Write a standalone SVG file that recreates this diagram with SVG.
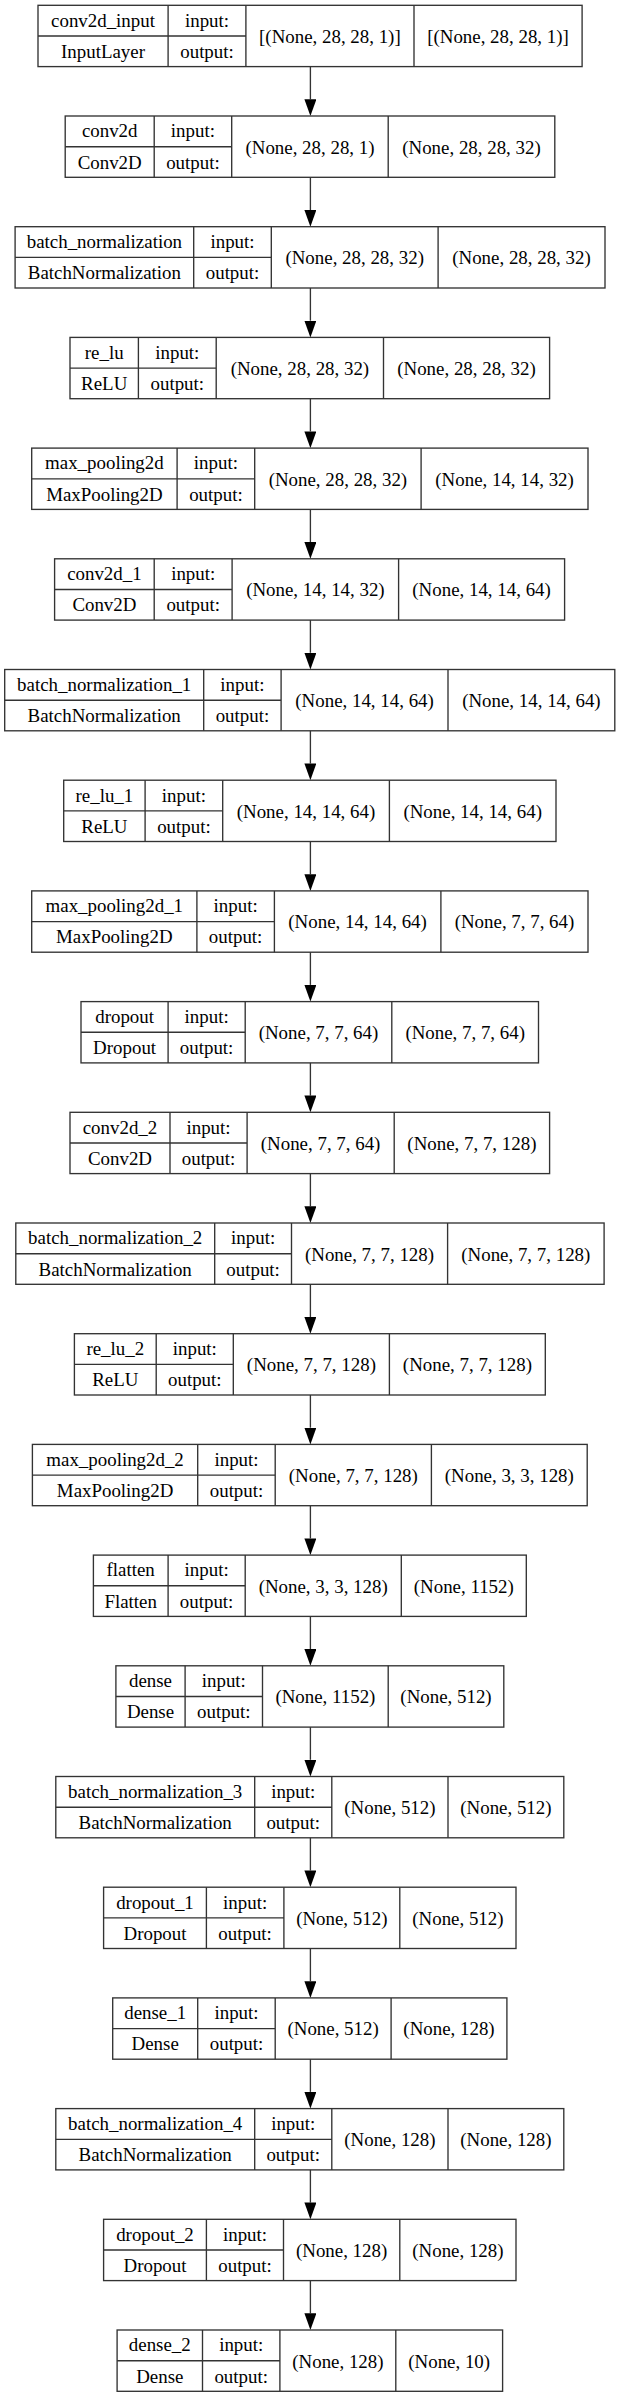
<svg xmlns="http://www.w3.org/2000/svg" width="620" height="2397" viewBox="0 0 620 2397">
<style>
.bg{fill:#fff}
.b{fill:none;stroke:#333;stroke-width:1.35}
.t{font-family:"Liberation Serif","Times New Roman",serif;font-size:18.9px;text-anchor:middle;fill:#000}
.e{stroke:#333;stroke-width:1.35;fill:none}
</style>
<defs>
<marker id="ah" markerUnits="userSpaceOnUse" markerWidth="17" markerHeight="12" refX="0" refY="6" orient="auto" viewBox="0 0 16.7 12">
<path d="M0,0 L16.7,6 L0,12 z" fill="#000"/>
</marker>
</defs>
<rect class="bg" x="0" y="0" width="620" height="2397"/>
<g id="connectors">
<line class="e" x1="310.4" y1="66.6" x2="310.4" y2="99.3" marker-end="url(#ah)"/>
<line class="e" x1="310.4" y1="177.3" x2="310.4" y2="210" marker-end="url(#ah)"/>
<line class="e" x1="310.4" y1="288" x2="310.4" y2="320.7" marker-end="url(#ah)"/>
<line class="e" x1="310.4" y1="398.7" x2="310.4" y2="431.4" marker-end="url(#ah)"/>
<line class="e" x1="310.4" y1="509.4" x2="310.4" y2="542.1" marker-end="url(#ah)"/>
<line class="e" x1="310.4" y1="620.1" x2="310.4" y2="652.8" marker-end="url(#ah)"/>
<line class="e" x1="310.4" y1="730.8" x2="310.4" y2="763.5" marker-end="url(#ah)"/>
<line class="e" x1="310.4" y1="841.5" x2="310.4" y2="874.2" marker-end="url(#ah)"/>
<line class="e" x1="310.4" y1="952.2" x2="310.4" y2="984.9" marker-end="url(#ah)"/>
<line class="e" x1="310.4" y1="1062.9" x2="310.4" y2="1095.6" marker-end="url(#ah)"/>
<line class="e" x1="310.4" y1="1173.6" x2="310.4" y2="1206.3" marker-end="url(#ah)"/>
<line class="e" x1="310.4" y1="1284.3" x2="310.4" y2="1317" marker-end="url(#ah)"/>
<line class="e" x1="310.4" y1="1395" x2="310.4" y2="1427.7" marker-end="url(#ah)"/>
<line class="e" x1="310.4" y1="1505.7" x2="310.4" y2="1538.4" marker-end="url(#ah)"/>
<line class="e" x1="310.4" y1="1616.4" x2="310.4" y2="1649.1" marker-end="url(#ah)"/>
<line class="e" x1="310.4" y1="1727.1" x2="310.4" y2="1759.8" marker-end="url(#ah)"/>
<line class="e" x1="310.4" y1="1837.8" x2="310.4" y2="1870.5" marker-end="url(#ah)"/>
<line class="e" x1="310.4" y1="1948.5" x2="310.4" y2="1981.2" marker-end="url(#ah)"/>
<line class="e" x1="310.4" y1="2059.2" x2="310.4" y2="2091.9" marker-end="url(#ah)"/>
<line class="e" x1="310.4" y1="2169.9" x2="310.4" y2="2202.6" marker-end="url(#ah)"/>
<line class="e" x1="310.4" y1="2280.6" x2="310.4" y2="2313.3" marker-end="url(#ah)"/>
</g>
<g id="conv2d_input" transform="translate(0,5.3)">
<rect class="b" x="38" y="0" width="544.1" height="61.3"/>
<path class="b" d="M168.1,0V61.3M245.9,0V61.3M414,0V61.3M38,30.7H245.9"/>
<text class="t" x="103" y="21.4">conv2d_input</text><text class="t" x="207" y="21.4">input:</text>
<text class="t" x="103" y="52.5">InputLayer</text><text class="t" x="207" y="52.5">output:</text>
<text class="t" x="329.9" y="37.5">[(None, 28, 28, 1)]</text><text class="t" x="498" y="37.5">[(None, 28, 28, 1)]</text>
</g>
<g id="conv2d" transform="translate(0,116)">
<rect class="b" x="65.2" y="0" width="489.6" height="61.3"/>
<path class="b" d="M154.2,0V61.3M231.7,0V61.3M388.2,0V61.3M65.2,30.7H231.7"/>
<text class="t" x="109.7" y="21.4">conv2d</text><text class="t" x="192.9" y="21.4">input:</text>
<text class="t" x="109.7" y="52.5">Conv2D</text><text class="t" x="192.9" y="52.5">output:</text>
<text class="t" x="310" y="37.5">(None, 28, 28, 1)</text><text class="t" x="471.5" y="37.5">(None, 28, 28, 32)</text>
</g>
<g id="batch_normalization" transform="translate(0,226.7)">
<rect class="b" x="15.1" y="0" width="589.9" height="61.3"/>
<path class="b" d="M193.7,0V61.3M271.3,0V61.3M438.1,0V61.3M15.1,30.7H271.3"/>
<text class="t" x="104.4" y="21.4">batch_normalization</text><text class="t" x="232.5" y="21.4">input:</text>
<text class="t" x="104.4" y="52.5">BatchNormalization</text><text class="t" x="232.5" y="52.5">output:</text>
<text class="t" x="354.7" y="37.5">(None, 28, 28, 32)</text><text class="t" x="521.5" y="37.5">(None, 28, 28, 32)</text>
</g>
<g id="re_lu" transform="translate(0,337.4)">
<rect class="b" x="70" y="0" width="479.6" height="61.3"/>
<path class="b" d="M138.4,0V61.3M216.2,0V61.3M383.5,0V61.3M70,30.7H216.2"/>
<text class="t" x="104.2" y="21.4">re_lu</text><text class="t" x="177.3" y="21.4">input:</text>
<text class="t" x="104.2" y="52.5">ReLU</text><text class="t" x="177.3" y="52.5">output:</text>
<text class="t" x="299.9" y="37.5">(None, 28, 28, 32)</text><text class="t" x="466.5" y="37.5">(None, 28, 28, 32)</text>
</g>
<g id="max_pooling2d" transform="translate(0,448.1)">
<rect class="b" x="31.7" y="0" width="556.3" height="61.3"/>
<path class="b" d="M177.1,0V61.3M254.7,0V61.3M421.1,0V61.3M31.7,30.7H254.7"/>
<text class="t" x="104.4" y="21.4">max_pooling2d</text><text class="t" x="215.9" y="21.4">input:</text>
<text class="t" x="104.4" y="52.5">MaxPooling2D</text><text class="t" x="215.9" y="52.5">output:</text>
<text class="t" x="337.9" y="37.5">(None, 28, 28, 32)</text><text class="t" x="504.6" y="37.5">(None, 14, 14, 32)</text>
</g>
<g id="conv2d_1" transform="translate(0,558.8)">
<rect class="b" x="54.6" y="0" width="510" height="61.3"/>
<path class="b" d="M154.2,0V61.3M232.1,0V61.3M398.6,0V61.3M54.6,30.7H232.1"/>
<text class="t" x="104.4" y="21.4">conv2d_1</text><text class="t" x="193.2" y="21.4">input:</text>
<text class="t" x="104.4" y="52.5">Conv2D</text><text class="t" x="193.2" y="52.5">output:</text>
<text class="t" x="315.4" y="37.5">(None, 14, 14, 32)</text><text class="t" x="481.6" y="37.5">(None, 14, 14, 64)</text>
</g>
<g id="batch_normalization_1" transform="translate(0,669.5)">
<rect class="b" x="4.7" y="0" width="610.1" height="61.3"/>
<path class="b" d="M203.7,0V61.3M281.1,0V61.3M448,0V61.3M4.7,30.7H281.1"/>
<text class="t" x="104.2" y="21.4">batch_normalization_1</text><text class="t" x="242.4" y="21.4">input:</text>
<text class="t" x="104.2" y="52.5">BatchNormalization</text><text class="t" x="242.4" y="52.5">output:</text>
<text class="t" x="364.6" y="37.5">(None, 14, 14, 64)</text><text class="t" x="531.4" y="37.5">(None, 14, 14, 64)</text>
</g>
<g id="re_lu_1" transform="translate(0,780.2)">
<rect class="b" x="63.7" y="0" width="492.3" height="61.3"/>
<path class="b" d="M145.1,0V61.3M222.7,0V61.3M389.4,0V61.3M63.7,30.7H222.7"/>
<text class="t" x="104.4" y="21.4">re_lu_1</text><text class="t" x="183.9" y="21.4">input:</text>
<text class="t" x="104.4" y="52.5">ReLU</text><text class="t" x="183.9" y="52.5">output:</text>
<text class="t" x="306" y="37.5">(None, 14, 14, 64)</text><text class="t" x="472.7" y="37.5">(None, 14, 14, 64)</text>
</g>
<g id="max_pooling2d_1" transform="translate(0,890.9)">
<rect class="b" x="31.7" y="0" width="556.3" height="61.3"/>
<path class="b" d="M196.9,0V61.3M274.4,0V61.3M440.9,0V61.3M31.7,30.7H274.4"/>
<text class="t" x="114.3" y="21.4">max_pooling2d_1</text><text class="t" x="235.6" y="21.4">input:</text>
<text class="t" x="114.3" y="52.5">MaxPooling2D</text><text class="t" x="235.6" y="52.5">output:</text>
<text class="t" x="357.6" y="37.5">(None, 14, 14, 64)</text><text class="t" x="514.5" y="37.5">(None, 7, 7, 64)</text>
</g>
<g id="dropout" transform="translate(0,1001.6)">
<rect class="b" x="81" y="0" width="457.5" height="61.3"/>
<path class="b" d="M168.1,0V61.3M245.2,0V61.3M391.8,0V61.3M81,30.7H245.2"/>
<text class="t" x="124.6" y="21.4">dropout</text><text class="t" x="206.6" y="21.4">input:</text>
<text class="t" x="124.6" y="52.5">Dropout</text><text class="t" x="206.6" y="52.5">output:</text>
<text class="t" x="318.5" y="37.5">(None, 7, 7, 64)</text><text class="t" x="465.2" y="37.5">(None, 7, 7, 64)</text>
</g>
<g id="conv2d_2" transform="translate(0,1112.3)">
<rect class="b" x="70" y="0" width="479.6" height="61.3"/>
<path class="b" d="M170,0V61.3M247.1,0V61.3M394.2,0V61.3M70,30.7H247.1"/>
<text class="t" x="120" y="21.4">conv2d_2</text><text class="t" x="208.5" y="21.4">input:</text>
<text class="t" x="120" y="52.5">Conv2D</text><text class="t" x="208.5" y="52.5">output:</text>
<text class="t" x="320.6" y="37.5">(None, 7, 7, 64)</text><text class="t" x="471.9" y="37.5">(None, 7, 7, 128)</text>
</g>
<g id="batch_normalization_2" transform="translate(0,1223)">
<rect class="b" x="15.8" y="0" width="588.3" height="61.3"/>
<path class="b" d="M214.7,0V61.3M291.5,0V61.3M447.6,0V61.3M15.8,30.7H291.5"/>
<text class="t" x="115.2" y="21.4">batch_normalization_2</text><text class="t" x="253.1" y="21.4">input:</text>
<text class="t" x="115.2" y="52.5">BatchNormalization</text><text class="t" x="253.1" y="52.5">output:</text>
<text class="t" x="369.5" y="37.5">(None, 7, 7, 128)</text><text class="t" x="525.8" y="37.5">(None, 7, 7, 128)</text>
</g>
<g id="re_lu_2" transform="translate(0,1333.7)">
<rect class="b" x="74.4" y="0" width="470.9" height="61.3"/>
<path class="b" d="M156.2,0V61.3M233.3,0V61.3M389.4,0V61.3M74.4,30.7H233.3"/>
<text class="t" x="115.3" y="21.4">re_lu_2</text><text class="t" x="194.8" y="21.4">input:</text>
<text class="t" x="115.3" y="52.5">ReLU</text><text class="t" x="194.8" y="52.5">output:</text>
<text class="t" x="311.4" y="37.5">(None, 7, 7, 128)</text><text class="t" x="467.4" y="37.5">(None, 7, 7, 128)</text>
</g>
<g id="max_pooling2d_2" transform="translate(0,1444.4)">
<rect class="b" x="32.4" y="0" width="554.8" height="61.3"/>
<path class="b" d="M197.7,0V61.3M275.2,0V61.3M431.4,0V61.3M32.4,30.7H275.2"/>
<text class="t" x="115.1" y="21.4">max_pooling2d_2</text><text class="t" x="236.5" y="21.4">input:</text>
<text class="t" x="115.1" y="52.5">MaxPooling2D</text><text class="t" x="236.5" y="52.5">output:</text>
<text class="t" x="353.3" y="37.5">(None, 7, 7, 128)</text><text class="t" x="509.3" y="37.5">(None, 3, 3, 128)</text>
</g>
<g id="flatten" transform="translate(0,1555.1)">
<rect class="b" x="93.4" y="0" width="432.9" height="61.3"/>
<path class="b" d="M168.1,0V61.3M245.2,0V61.3M401.3,0V61.3M93.4,30.7H245.2"/>
<text class="t" x="130.7" y="21.4">flatten</text><text class="t" x="206.6" y="21.4">input:</text>
<text class="t" x="130.7" y="52.5">Flatten</text><text class="t" x="206.6" y="52.5">output:</text>
<text class="t" x="323.2" y="37.5">(None, 3, 3, 128)</text><text class="t" x="463.8" y="37.5">(None, 1152)</text>
</g>
<g id="dense" transform="translate(0,1665.8)">
<rect class="b" x="115.9" y="0" width="387.9" height="61.3"/>
<path class="b" d="M185.1,0V61.3M262.5,0V61.3M388.2,0V61.3M115.9,30.7H262.5"/>
<text class="t" x="150.5" y="21.4">dense</text><text class="t" x="223.8" y="21.4">input:</text>
<text class="t" x="150.5" y="52.5">Dense</text><text class="t" x="223.8" y="52.5">output:</text>
<text class="t" x="325.4" y="37.5">(None, 1152)</text><text class="t" x="446" y="37.5">(None, 512)</text>
</g>
<g id="batch_normalization_3" transform="translate(0,1776.5)">
<rect class="b" x="55.8" y="0" width="508" height="61.3"/>
<path class="b" d="M254.7,0V61.3M331.8,0V61.3M448,0V61.3M55.8,30.7H331.8"/>
<text class="t" x="155.2" y="21.4">batch_normalization_3</text><text class="t" x="293.2" y="21.4">input:</text>
<text class="t" x="155.2" y="52.5">BatchNormalization</text><text class="t" x="293.2" y="52.5">output:</text>
<text class="t" x="389.9" y="37.5">(None, 512)</text><text class="t" x="505.9" y="37.5">(None, 512)</text>
</g>
<g id="dropout_1" transform="translate(0,1887.2)">
<rect class="b" x="103.6" y="0" width="412.4" height="61.3"/>
<path class="b" d="M206.4,0V61.3M283.9,0V61.3M399.8,0V61.3M103.6,30.7H283.9"/>
<text class="t" x="155" y="21.4">dropout_1</text><text class="t" x="245.1" y="21.4">input:</text>
<text class="t" x="155" y="52.5">Dropout</text><text class="t" x="245.1" y="52.5">output:</text>
<text class="t" x="341.8" y="37.5">(None, 512)</text><text class="t" x="457.9" y="37.5">(None, 512)</text>
</g>
<g id="dense_1" transform="translate(0,1997.9)">
<rect class="b" x="112.7" y="0" width="394.2" height="61.3"/>
<path class="b" d="M197.7,0V61.3M275.2,0V61.3M391.1,0V61.3M112.7,30.7H275.2"/>
<text class="t" x="155.2" y="21.4">dense_1</text><text class="t" x="236.5" y="21.4">input:</text>
<text class="t" x="155.2" y="52.5">Dense</text><text class="t" x="236.5" y="52.5">output:</text>
<text class="t" x="333.1" y="37.5">(None, 512)</text><text class="t" x="449" y="37.5">(None, 128)</text>
</g>
<g id="batch_normalization_4" transform="translate(0,2108.6)">
<rect class="b" x="55.8" y="0" width="508" height="61.3"/>
<path class="b" d="M254.7,0V61.3M331.8,0V61.3M448,0V61.3M55.8,30.7H331.8"/>
<text class="t" x="155.2" y="21.4">batch_normalization_4</text><text class="t" x="293.2" y="21.4">input:</text>
<text class="t" x="155.2" y="52.5">BatchNormalization</text><text class="t" x="293.2" y="52.5">output:</text>
<text class="t" x="389.9" y="37.5">(None, 128)</text><text class="t" x="505.9" y="37.5">(None, 128)</text>
</g>
<g id="dropout_2" transform="translate(0,2219.3)">
<rect class="b" x="103.6" y="0" width="412.4" height="61.3"/>
<path class="b" d="M206.4,0V61.3M283.5,0V61.3M399.8,0V61.3M103.6,30.7H283.5"/>
<text class="t" x="155" y="21.4">dropout_2</text><text class="t" x="245" y="21.4">input:</text>
<text class="t" x="155" y="52.5">Dropout</text><text class="t" x="245" y="52.5">output:</text>
<text class="t" x="341.6" y="37.5">(None, 128)</text><text class="t" x="457.9" y="37.5">(None, 128)</text>
</g>
<g id="dense_2" transform="translate(0,2330)">
<rect class="b" x="117.1" y="0" width="385.5" height="61.3"/>
<path class="b" d="M202.5,0V61.3M279.9,0V61.3M395.8,0V61.3M117.1,30.7H279.9"/>
<text class="t" x="159.8" y="21.4">dense_2</text><text class="t" x="241.2" y="21.4">input:</text>
<text class="t" x="159.8" y="52.5">Dense</text><text class="t" x="241.2" y="52.5">output:</text>
<text class="t" x="337.9" y="37.5">(None, 128)</text><text class="t" x="449.2" y="37.5">(None, 10)</text>
</g>
</svg>
